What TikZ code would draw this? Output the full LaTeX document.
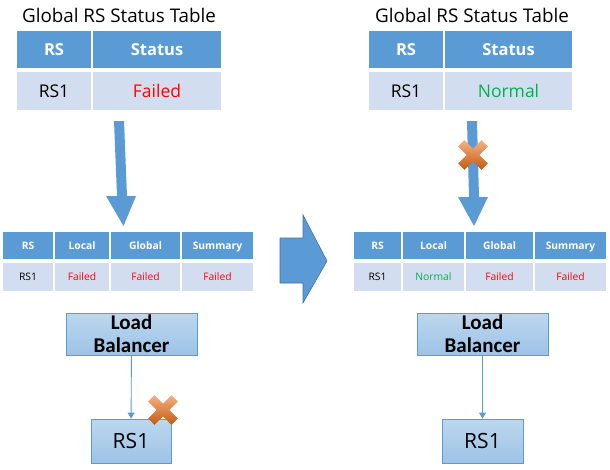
\documentclass[tikz,border=0pt]{standalone}
\usepackage{fontspec}
\setmainfont{Open Sans}
\newfontfamily\lbfont{Carlito}
\usetikzlibrary{arrows.meta}
\definecolor{hdr}{HTML}{5B9BD5}
\definecolor{dat}{HTML}{D2DEEF}
\definecolor{okgreen}{HTML}{00B050}
\definecolor{boxtop}{HTML}{BDD7EE}
\definecolor{boxbot}{HTML}{9DC3E6}
\definecolor{xtop}{HTML}{F4B183}
\definecolor{xbot}{HTML}{C55A11}
\definecolor{arrline}{HTML}{41719C}
\tikzset{
  cell/.style={anchor=north west, inner sep=0pt, outer sep=0pt, text depth=0pt},
  hbig/.style={cell, fill=hdr, text=white, font=\fontsize{16.5}{18}\selectfont\bfseries},
  dbig/.style={cell, fill=dat, font=\fontsize{17.5}{19}\selectfont},
  hsmall/.style={cell, fill=hdr, text=white, font=\fontsize{10.3}{12}\selectfont\bfseries},
  dsmall/.style={cell, fill=dat, font=\fontsize{10.3}{12}\selectfont},
  title/.style={font=\fontsize{18.8}{20}\selectfont},
  lbbox/.style={draw=hdr, line width=0.8pt, top color=boxtop, bottom color=boxbot, align=center, inner sep=0pt},
  conn/.style={draw=hdr, line width=0.9pt, -{Triangle[length=6pt,width=7pt]}},
  bigarr/.style={fill=hdr},
  xmark/.pic={\shade[top color=xtop, bottom color=xbot]
    (-14.85,8.49)--(-8.49,14.85)--(0,6.36)--(8.49,14.85)--(14.85,8.49)--(6.36,0)--
    (14.85,-8.49)--(8.49,-14.85)--(0,-6.36)--(-8.49,-14.85)--(-14.85,-8.49)--(-6.36,0)--cycle;}
}
\begin{document}
\begin{tikzpicture}[x=1pt,y=-1pt]
\useasboundingbox (0,0) rectangle (610,469);
% ---------- left top table
\node[title] (tl) at (119,15) {Global RS Status Table};
\node[hbig, minimum width=74pt, minimum height=37pt] (l1) at (17,31) {RS};
\node[hbig, minimum width=128pt, minimum height=37pt] (l2) at (93,31) {Status};
\node[dbig, minimum width=74pt, minimum height=38pt] (l3) at (17,72) {RS1};
\node[dbig, minimum width=128pt, minimum height=38pt, text=red] (l4) at (93,72) {Failed};
% ---------- right top table
\node[title] (tr) at (472,15) {Global RS Status Table};
\node[hbig, minimum width=74pt, minimum height=37pt] (r1) at (369,31) {RS};
\node[hbig, minimum width=127pt, minimum height=37pt] (r2) at (445,31) {Status};
\node[dbig, minimum width=74pt, minimum height=38pt] (r3) at (369,72) {RS1};
\node[dbig, minimum width=127pt, minimum height=38pt, text=okgreen] (r4) at (445,72) {Normal};
% ---------- vertical thick arrows
\fill[bigarr] (114,121)--(124,121)--(127,196)--(136,196)--(123.5,226)--(106,196)--(117,196)--cycle;
\fill[bigarr] (467,121)--(477,121)--(479,197)--(488,197)--(474,226)--(458,197)--(469,197)--cycle;
\pic at (473,155) {xmark};
% ---------- left bottom table
\node[hsmall, minimum width=50pt, minimum height=27pt] (a1) at (3,232) {RS};
\node[hsmall, minimum width=54pt, minimum height=27pt] (a2) at (55,232) {Local};
\node[hsmall, minimum width=69pt, minimum height=27pt] (a3) at (111,232) {Global};
\node[hsmall, minimum width=71pt, minimum height=27pt] (a4) at (182,232) {Summary};
\node[dsmall, minimum width=50pt, minimum height=28pt] (b1) at (3,263) {RS1};
\node[dsmall, minimum width=54pt, minimum height=28pt, text=red] (b2) at (55,263) {Failed};
\node[dsmall, minimum width=69pt, minimum height=28pt, text=red] (b3) at (111,263) {Failed};
\node[dsmall, minimum width=71pt, minimum height=28pt, text=red] (b4) at (182,263) {Failed};
% ---------- right bottom table
\node[hsmall, minimum width=47pt, minimum height=27pt] (c1) at (354,232) {RS};
\node[hsmall, minimum width=61pt, minimum height=27pt] (c2) at (403,232) {Local};
\node[hsmall, minimum width=67pt, minimum height=27pt] (c3) at (466,232) {Global};
\node[hsmall, minimum width=71pt, minimum height=27pt] (c4) at (535,232) {Summary};
\node[dsmall, minimum width=47pt, minimum height=28pt] (d1) at (354,263) {RS1};
\node[dsmall, minimum width=61pt, minimum height=28pt, text=okgreen] (d2) at (403,263) {Normal};
\node[dsmall, minimum width=67pt, minimum height=28pt, text=red] (d3) at (466,263) {Failed};
\node[dsmall, minimum width=71pt, minimum height=28pt, text=red] (d4) at (535,263) {Failed};
% ---------- block arrow in the middle
\path[bigarr, draw=arrline, line width=0.6pt] (280,238)--(303,238)--(303,215)--(327,261)--(303,303)--(303,283)--(280,283)--cycle;
% ---------- load balancers and RS1 boxes
\node[lbbox, minimum width=131pt, minimum height=42pt, font=\lbfont\fontsize{21}{23}\selectfont\bfseries] (lbl) at (131.5,334) {Load\\Balancer};
\node[lbbox, minimum width=80pt, minimum height=44pt, font=\fontsize{21}{23}\selectfont] (rsl) at (131,441) {RS1};
\draw[conn] (lbl) -- (rsl);
\pic at (163,410) {xmark};
\node[lbbox, minimum width=131pt, minimum height=42pt, font=\lbfont\fontsize{21}{23}\selectfont\bfseries] (lbr) at (482.5,334) {Load\\Balancer};
\node[lbbox, minimum width=81pt, minimum height=44pt, font=\fontsize{21}{23}\selectfont] (rsr) at (482.5,441) {RS1};
\draw[conn] (lbr) -- (rsr);
\end{tikzpicture}
\end{document}
